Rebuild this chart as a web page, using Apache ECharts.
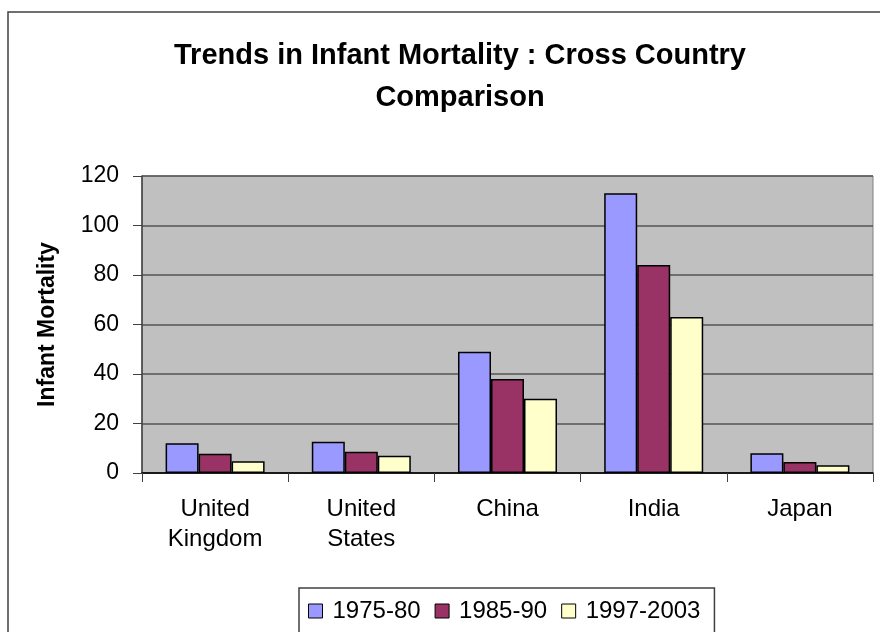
<!DOCTYPE html>
<html>
<head>
<meta charset="utf-8">
<script src="https://cdn.jsdelivr.net/npm/echarts@6/dist/echarts.min.js"></script>
<style>
html,body{margin:0;padding:0;background:#fff;}
#chart{width:880px;height:632px;}
</style>
</head>
<body>
<div id="chart"></div>
<script>
var categories = ['United\nKingdom', 'United\nStates', 'China', 'India', 'Japan'];
var s1975 = [12, 12.6, 49, 113, 8];
var s1985 = [7.8, 8.6, 38, 84, 4.4];
var s1997 = [4.7, 7, 30, 63, 3.1];
var seriesNames = ['1975-80', '1985-90', '1997-2003'];
var yTicks = {min: 0, max: 120, interval: 20};

var FONT = '"Liberation Sans", Arial, sans-serif';
var chart = echarts.init(document.getElementById('chart'), null, {renderer: 'canvas'});

function bar(name, data, color) {
  return {
    name: name, type: 'bar', data: data, barWidth: 33, barGap: '0%',
    itemStyle: {color: color, borderColor: '#000', borderWidth: 1.5},
    emphasis: {disabled: true}
  };
}

chart.setOption({
  animation: false,
  backgroundColor: '#fff',
  textStyle: {fontFamily: FONT},
  title: {
    text: 'Trends in Infant Mortality : Cross Country\nComparison',
    left: 455, top: 30, textAlign: 'center',
    textStyle: {fontFamily: FONT, fontSize: 29, fontWeight: 'bold', color: '#000', lineHeight: 42}
  },
  graphic: [{
    type: 'rect', silent: true, z: -1,
    shape: {x: 8, y: 12, width: 900, height: 660},
    style: {fill: 'none', stroke: '#404040', lineWidth: 1.5}
  }],
  grid: {
    left: 142, right: 7, top: 176, bottom: 159,
    show: true, backgroundColor: '#C0C0C0', borderColor: '#808080', borderWidth: 1
  },
  legend: {
    data: seriesNames,
    left: 299, top: 588,
    padding: [11, 14, 11, 9],
    itemWidth: 14, itemHeight: 14, itemGap: 14,
    icon: 'rect',
    borderColor: '#404040', borderWidth: 1.5,
    itemStyle: {borderColor: '#000', borderWidth: 1},
    textStyle: {fontFamily: FONT, fontSize: 24, color: '#000', padding: [0, 0, 0, 5]},
    selectedMode: false
  },
  xAxis: {
    type: 'category', data: categories,
    axisLine: {lineStyle: {color: '#000', width: 1.5}},
    axisTick: {show: true, length: 9, lineStyle: {color: '#404040', width: 1}},
    axisLabel: {fontFamily: FONT, fontSize: 24, color: '#000', lineHeight: 30, margin: 21, interval: 0}
  },
  yAxis: {
    type: 'value', min: yTicks.min, max: yTicks.max, interval: yTicks.interval,
    name: 'Infant Mortality', nameLocation: 'middle', nameGap: 83, nameRotate: 90,
    nameTextStyle: {fontFamily: FONT, fontSize: 23, fontWeight: 'bold', color: '#000'},
    axisLine: {show: true, lineStyle: {color: '#404040', width: 1.5}},
    axisTick: {show: true, length: 9, lineStyle: {color: '#404040', width: 1}},
    axisLabel: {fontFamily: FONT, fontSize: 23, color: '#000', margin: 23},
    splitLine: {lineStyle: {color: '#555', width: 1.5}}
  },
  series: [
    bar(seriesNames[0], s1975, '#9999FF'),
    bar(seriesNames[1], s1985, '#993366'),
    bar(seriesNames[2], s1997, '#FFFFCC')
  ]
});
</script>
</body>
</html>
